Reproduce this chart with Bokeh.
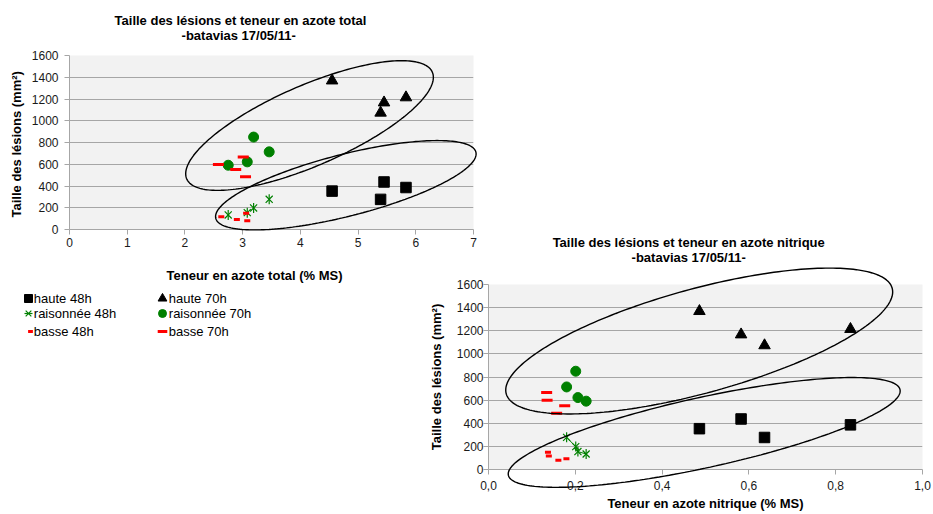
import numpy as np
from bokeh.plotting import figure
from bokeh.models import (Label, Legend, LegendItem, PolyAnnotation, FixedTicker,
                          CustomJSTickFormatter, Range1d)
from bokeh.layouts import column
from bokeh.embed import file_html
from bokeh.resources import INLINE

# ---------------- data ----------------
# nitrogen content per plot: total N (% MS) and nitric N (% MS)
haute_tot = [4.55, 5.45, 5.39, 5.83]
haute_nit = [0.486, 0.582, 0.636, 0.834]
rais_tot = [3.46, 3.19, 3.08, 2.75]
rais_nit = [0.180, 0.201, 0.206, 0.225]
basse48_tot = [2.63, 3.06, 2.90, 3.08]
basse48_nit = [0.139, 0.137, 0.1795, 0.161]
basse70_tot = [2.58, 3.01, 2.88, 3.05]
basse70_nit = [0.135, 0.134, 0.1756, 0.157]

# lesion sizes (mm²)
haute48_y = [353, 437, 277, 386]
haute70_y = [1369, 1167, 1073, 1214]
rais48_y = [278, 198, 155, 134]
rais70_y = [714, 850, 622, 591]
basse48_y = [117, 149, 93, 80]
basse70_y = [598, 667, 552, 486]

labels = ["haute 48h", "raisonnée 48h", "basse 48h", "haute 70h", "raisonnée 70h", "basse 70h"]

y_ticks = [0, 200, 400, 600, 800, 1000, 1200, 1400, 1600]
x_ticks_tot = [0, 1, 2, 3, 4, 5, 6, 7]
x_ticks_nit = [0.0, 0.2, 0.4, 0.6, 0.8, 1.0]

title_left = ["Taille des lésions et teneur en azote total", "-batavias  17/05/11-"]
title_right = ["Taille des lésions et  teneur en azote nitrique", "-batavias  17/05/11-"]
xlabel_left = "Teneur en azote total (% MS)"
xlabel_right = "Teneur en azote nitrique (% MS)"
ylabel_left = "Taille des lésions  (mm²)"
ylabel_right = "Taille des lésions (mm²)"

# ---------------- styling / geometry ----------------
FONT = "Liberation Sans"
GREEN = "#008000"
RED = "#ff0000"
GRID = "#a6a6a6"
PLOT_BG = "#f2f2f2"
NAN = float("nan")

# left chart canvas and frame (page px)
LW, LH = 480, 260
L_LEFT, L_TOP, L_RIGHT, L_BOTTOM = 69, 55, 473, 229
L_SX, L_SY = (L_RIGHT - L_LEFT) / 7.0, (L_BOTTOM - L_TOP) / 1600.0
LOW, LOH = 480, 350          # left overlay size

# right chart canvas and frame (page px)
RX0, RY0 = 420, 228
RW, RH = 513, 285
R_LEFT, R_TOP, R_RIGHT, R_BOTTOM = 488, 284, 922, 472
R_SX, R_SY = (R_RIGHT - R_LEFT) / 1.0, (R_BOTTOM - R_TOP) / 1600.0


def left_pos(px, py):
    return (px - L_LEFT) / L_SX, (L_BOTTOM - py) / L_SY


def right_pos(px, py):
    return (px - R_LEFT) / R_SX, (R_BOTTOM - py) / R_SY


def make_fig(width, height, xr, yr, bl, br, bt, bb):
    p = figure(width=width, height=height, x_range=xr, y_range=yr,
               min_border_left=bl, min_border_right=br, min_border_top=bt, min_border_bottom=bb,
               output_backend="svg", toolbar_location=None,
               background_fill_color=PLOT_BG, border_fill_color=None, outline_line_color=None)
    p.frame_align = False
    p.xgrid.grid_line_color = None
    p.ygrid.grid_line_color = GRID
    for ax in p.axis:
        ax.axis_line_color = GRID
        ax.major_tick_line_color = GRID
        ax.major_tick_in = 0
        ax.major_tick_out = 5
        ax.minor_tick_line_color = None
        ax.major_label_text_font = FONT
        ax.major_label_text_font_size = "12px"
        ax.major_label_text_color = "#1a1a1a"
        ax.axis_label_text_font = FONT
        ax.axis_label_text_font_size = "13px"
        ax.axis_label_text_font_style = "bold"
        ax.axis_label_text_color = "black"
    p.yaxis.ticker = FixedTicker(ticks=y_ticks)
    return p


def make_overlay(width, height, f_left, f_bottom, sx, sy):
    # transparent figure sharing the chart's data mapping, spanning its whole canvas
    xr = Range1d((0 - f_left) / sx, (width - f_left) / sx)
    yr = Range1d((f_bottom - height) / sy, f_bottom / sy)
    o = figure(width=width, height=height, x_range=xr, y_range=yr,
               x_axis_type=None, y_axis_type=None, min_border=0,
               min_border_left=0, min_border_right=0, min_border_top=0, min_border_bottom=0,
               output_backend="svg", toolbar_location=None,
               background_fill_color=None, border_fill_color=None, outline_line_color=None)
    o.frame_align = False
    return o


def draw_series(p, hx, rx, b48x, b70x, ys, with_line=False):
    r = {}
    r["h48"] = p.scatter(hx, ys[0], marker="square", size=10.5, color="black")
    r["h70"] = p.scatter(hx, ys[1], marker="triangle", size=11.5, color="black")
    if with_line:
        p.line(rx, ys[2], line_color=GREEN, line_width=1)
    r["r48x"] = p.scatter(rx, ys[2], marker="x", size=10, line_color=GREEN, line_width=1.2)
    r["r48v"] = p.scatter(rx, ys[2], marker="dash", angle=np.pi / 2, size=10,
                          line_color=GREEN, line_width=1.2)
    r["r70"] = p.scatter(rx, ys[3], marker="circle", size=10, color=GREEN)
    r["b48"] = p.scatter(b48x, ys[4], marker="dash", size=6, line_color=RED, line_width=3)
    r["b70"] = p.scatter(b70x, ys[5], marker="dash", size=11, line_color=RED, line_width=3)
    return r


def add_ellipse(p, cx, cy, a, b, ang_deg, sx, sy):
    t = np.linspace(0, 2 * np.pi, 240)
    th = np.deg2rad(ang_deg)
    dx = a * np.cos(t) * np.cos(th) - b * np.sin(t) * np.sin(th)
    dy = a * np.cos(t) * np.sin(th) + b * np.sin(t) * np.cos(th)
    p.add_layout(PolyAnnotation(xs=list(cx + dx / sx), ys=list(cy + dy / sy),
                                fill_color=None, line_color="black", line_alpha=1.0,
                                line_width=1.4))


def add_text(p, pos, text, size="13px", bold=True, align="center"):
    x, y = pos
    p.add_layout(Label(x=x, y=y, text=text, text_align=align, text_baseline="middle",
                       text_font=FONT, text_font_size=size,
                       text_font_style="bold" if bold else "normal", text_color="black"))


lesions = [haute48_y, haute70_y, rais48_y, rais70_y, basse48_y, basse70_y]

# ---------------- left chart: total N ----------------
pl = make_fig(LW, LH, (0, 7), (0, 1600), L_LEFT, LW - L_RIGHT, L_TOP, LH - L_BOTTOM)
pl.xaxis.ticker = FixedTicker(ticks=x_ticks_tot)
pl.xaxis.major_label_standoff = 3
pl.yaxis.major_label_standoff = 6
pl.yaxis.axis_label = ylabel_left
pl.yaxis.axis_label_standoff = 5
draw_series(pl, haute_tot, rais_tot, basse48_tot, basse70_tot, lesions)

ol = make_overlay(LOW, LOH, L_LEFT, L_BOTTOM, L_SX, L_SY)
ol.margin = (-LH, 0, 0, 0)
add_ellipse(ol, 4.159, 956, 133.9, 40.1, 23.5, L_SX, L_SY)
add_ellipse(ol, 4.788, 407, 134.2, 30.9, 14.3, L_SX, L_SY)
add_text(ol, left_pos(240, 20), title_left[0])
add_text(ol, left_pos(240, 35), title_left[1])
add_text(ol, left_pos(254, 275), xlabel_left)

# legend proxies (no visible points) in the overlay
nan4 = [NAN] * 4
proxy = draw_series(ol, nan4, nan4, nan4, nan4, [nan4] * 6)


def legend_item(p, renderers, label, cx, cy, g, text_x, canvas_h):
    # legend symbol drawn by a Legend, its text by a Label placed right next to it
    leg = Legend(items=[LegendItem(label=" ", renderers=renderers)],
                 location=(cx - g / 2, canvas_h - (cy + g / 2)),
                 glyph_width=g, glyph_height=g, label_height=g, label_width=1,
                 label_standoff=0, padding=0, spacing=0, margin=0,
                 border_line_color=None, background_fill_alpha=0,
                 label_text_font=FONT, label_text_font_size="13px")
    p.add_layout(leg)
    add_text(p, left_pos(text_x, cy), label, bold=False, align="left")


legend_item(ol, [proxy["h48"]], labels[0], 28, 297.7, 20, 33.3, LOH)
legend_item(ol, [proxy["r48x"], proxy["r48v"]], labels[1], 27.5, 313.3, 20, 33.3, LOH)
legend_item(ol, [proxy["b48"]], labels[2], 30.3, 331, 12, 33.3, LOH)
legend_item(ol, [proxy["h70"]], labels[3], 162, 297.7, 22, 168.3, LOH)
legend_item(ol, [proxy["r70"]], labels[4], 162.3, 313.3, 20, 168.3, LOH)
legend_item(ol, [proxy["b70"]], labels[5], 162, 331, 24, 168.3, LOH)

# ---------------- right chart: nitric N ----------------
pr = make_fig(RW, RH, (0, 1.0), (0, 1600), R_LEFT - RX0, RX0 + RW - R_RIGHT,
              R_TOP - RY0, RY0 + RH - R_BOTTOM)
pr.margin = (RY0 - LOH, 0, 0, RX0)
pr.xaxis.ticker = FixedTicker(ticks=x_ticks_nit)
pr.xaxis.formatter = CustomJSTickFormatter(code="return tick.toFixed(1).replace('.', ',');")
pr.xaxis.major_label_standoff = 6
pr.xaxis.axis_label = xlabel_right
pr.xaxis.axis_label_standoff = 3
pr.yaxis.major_label_standoff = 0
pr.yaxis.axis_label = ylabel_right
pr.yaxis.axis_label_standoff = 10
draw_series(pr, haute_nit, rais_nit, basse48_nit, basse70_nit, lesions, with_line=True)

orr = make_overlay(RW, RH, R_LEFT - RX0, R_BOTTOM - RY0, R_SX, R_SY)
orr.margin = (-RH, 0, 0, RX0)
RS_X, RS_Y = 434.6, 0.11731   # reference px per unit used for ellipse sizes
add_ellipse(orr, 0.4855, 1119, 200.3, 52.1, 15.25, RS_X, RS_Y)
add_ellipse(orr, 0.497, 341, 200.7, 35.1, 12.3, RS_X, RS_Y)
add_text(orr, right_pos(690, 242), title_right[0])
add_text(orr, right_pos(690, 257), title_right[1])

layout = column(pl, ol, pr, orr)
open("out.html", "w").write(file_html(layout, INLINE))
